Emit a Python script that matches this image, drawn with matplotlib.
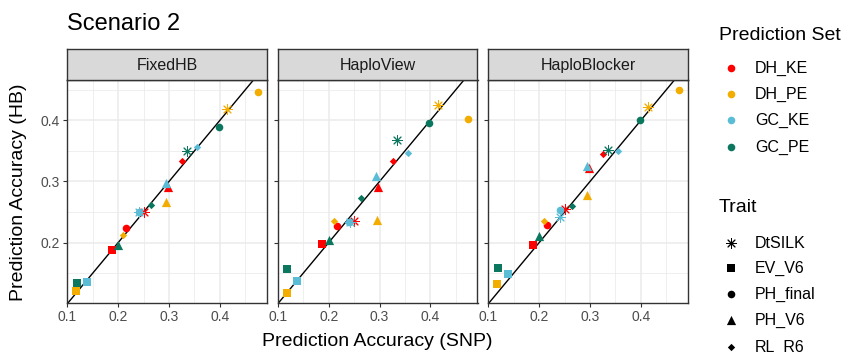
import matplotlib
matplotlib.use("Agg")
import matplotlib.pyplot as plt
import numpy as np

plt.rcParams['font.family'] = ['Liberation Sans', 'DejaVu Sans']

methods = ["FixedHB", "HaploView", "HaploBlocker"]
pred_sets = ["DH_KE", "DH_PE", "GC_KE", "GC_PE"]
traits = ["DtSILK", "EV_V6", "PH_final", "PH_V6", "RL_R6"]
set_colors = ["#FF0000", "#F2AD00", "#5BBCD6", "#0B775E"]

# SNP accuracy (x), rows = prediction set, cols = trait
snp_acc = [
    [0.250, 0.187, 0.216, 0.297, 0.326],
    [0.415, 0.117, 0.475, 0.295, 0.210],
    [0.241, 0.138, 0.240, 0.294, 0.356],
    [0.335, 0.118, 0.398, 0.200, 0.264],
]

# HB accuracy (y) per method
hb_fixed = [
    [0.250, 0.187, 0.223, 0.291, 0.334],
    [0.418, 0.120, 0.446, 0.267, 0.213],
    [0.250, 0.136, 0.250, 0.298, 0.356],
    [0.350, 0.133, 0.389, 0.196, 0.262],
]
hb_view = [
    [0.2345, 0.198, 0.227, 0.291, 0.334],
    [0.426, 0.1175, 0.4016, 0.237, 0.2345],
    [0.233, 0.137, 0.234, 0.309, 0.346],
    [0.368, 0.157, 0.396, 0.204, 0.273],
]
hb_blocker = [
    [0.255, 0.1957, 0.228, 0.322, 0.345],
    [0.4226, 0.1326, 0.4496, 0.277, 0.2356],
    [0.2415, 0.149, 0.2534, 0.325, 0.3504],
    [0.352, 0.158, 0.4005, 0.211, 0.259],
]
hb_acc = [hb_fixed, hb_view, hb_blocker]

# ggplot-like shapes: 8, 15, 16, 17, 18
trait_markers = [(8, 2, 0), "s", "o", "^", "D"]
trait_sizes = [50, 30, 30, 44, 14]

W, H = 842, 354
fig = plt.figure(figsize=(W / 100, H / 100), dpi=100)

x_all = np.array(snp_acc)
y_all = np.array(hb_acc)
xr = x_all.max() - x_all.min()
yr = y_all.max() - y_all.min()
xlim = (x_all.min() - 0.05 * xr, x_all.max() + 0.05 * xr)
ylim = (y_all.min() - 0.05 * yr, y_all.max() + 0.05 * yr)

lefts = [67, 277.5, 488]
pw = 200
top, bottom = 80, 303
strip_top = 49

for k, m in enumerate(methods):
    ax = fig.add_axes([lefts[k] / W, 1 - bottom / H, pw / W, (bottom - top) / H])
    ax.set_xlim(xlim)
    ax.set_ylim(ylim)
    ax.set_xticks([0.1, 0.2, 0.3, 0.4])
    ax.set_yticks([0.2, 0.3, 0.4])
    ax.set_xticks([0.15, 0.25, 0.35, 0.45], minor=True)
    ax.set_yticks([0.15, 0.25, 0.35, 0.45], minor=True)
    ax.grid(which="major", color="#EBEBEB", lw=1.1)
    ax.grid(which="minor", color="#EBEBEB", lw=0.55)
    ax.set_axisbelow(True)
    ax.tick_params(which="minor", length=0)
    ax.tick_params(which="major", length=3, width=0.8, color="#333333",
                   labelsize=10, labelcolor="#4D4D4D", pad=2)
    if k > 0:
        ax.set_yticklabels([])
    for s in ax.spines.values():
        s.set_color("#333333")
        s.set_linewidth(1.0)

    ax.axline((0.2, 0.2), slope=1, color="black", lw=1, zorder=2)
    for i in range(len(pred_sets)):
        for j in range(len(traits)):
            mk = trait_markers[j]
            if j == 0:
                ax.scatter(snp_acc[i][j], hb_acc[k][i][j], marker=mk, s=trait_sizes[j],
                           color=set_colors[i], linewidths=0.7, zorder=3)
            else:
                ax.scatter(snp_acc[i][j], hb_acc[k][i][j], marker=mk, s=trait_sizes[j],
                           color=set_colors[i], linewidths=0, zorder=3)

    sax = fig.add_axes([lefts[k] / W, 1 - top / H, pw / W, (top - strip_top) / H])
    sax.set_facecolor("#D9D9D9")
    sax.set_xticks([])
    sax.set_yticks([])
    for s in sax.spines.values():
        s.set_color("#333333")
        s.set_linewidth(1.0)
    sax.text(0.5, 0.48, m, ha="center", va="center", fontsize=11.5, color="#1A1A1A",
             transform=sax.transAxes)

fig.text(67 / W, 1 - 24 / H, "Scenario 2", fontsize=17, va="center", ha="left")
fig.text((67 + 688) / 2 / W, 1 - 341 / H, "Prediction Accuracy (SNP)", fontsize=14,
         ha="center", va="center")
fig.text(19 / W, 1 - 192 / H, "Prediction Accuracy (HB)", fontsize=14,
         ha="center", va="center", rotation=90)

# legends
lax = fig.add_axes([0, 0, 1, 1])
lax.set_xlim(0, W)
lax.set_ylim(H, 0)
lax.axis("off")
lax.text(719, 36, "Prediction Set", fontsize=14, va="center", ha="left")
set_y = [68, 94, 120, 147]
for i, name in enumerate(pred_sets):
    lax.scatter(731, set_y[i], marker="o", s=30, color=set_colors[i], linewidths=0)
    lax.text(755, set_y[i], name, fontsize=11.5, va="center", ha="left")
lax.text(719, 208, "Trait", fontsize=14, va="center", ha="left")
trait_y = [243, 268, 294, 320, 347]
for j, name in enumerate(traits):
    lax.scatter(731, trait_y[j], marker=trait_markers[j], s=trait_sizes[j], color="black",
                linewidths=0.7 if j == 0 else 0)
    lax.text(755, trait_y[j], name, fontsize=11.5, va="center", ha="left")

plt.savefig("out.png", dpi=100)
